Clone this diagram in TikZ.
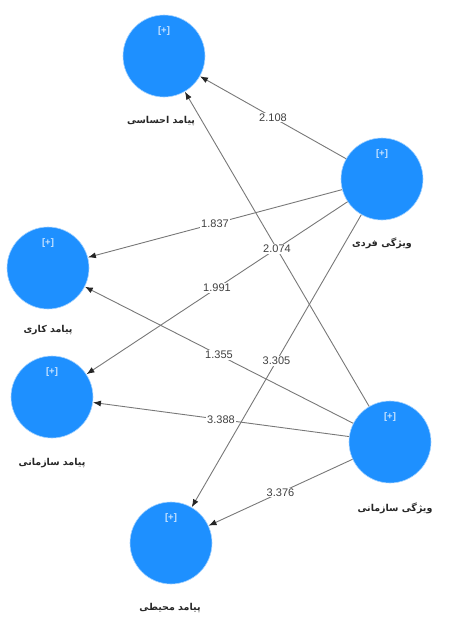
\documentclass[tikz,border=0pt]{standalone}
\usepackage{fontspec}
\setmainfont{Liberation Sans}
\newfontfamily\arabicfont[Script=Arabic]{DejaVu Sans}
\TeXXeTstate=1
\usetikzlibrary{arrows.meta}
\definecolor{circblue}{HTML}{1E90FF}
\definecolor{edgegray}{HTML}{787878}
\tikzset{
  lv/.style={circle, fill=circblue, draw=circblue!40, line width=0.6pt, minimum size=82pt, inner sep=0pt},
  plus/.style={font=\bfseries\fontsize{9.5}{10}\selectfont, text=white!75!circblue},
  fa/.style={font=\arabicfont\bfseries\fontsize{9.5}{10}\selectfont, text=black!85},
  link/.style={draw=edgegray, line width=0.9pt, -{Latex[length=8pt,width=6pt,color=black!85]}},
  coef/.style={fill=white, inner sep=1pt, font=\fontsize{11}{12}\selectfont, text=black!75}
}
\begin{document}
\begin{tikzpicture}[x=1pt,y=-1pt]
\useasboundingbox (0,0) rectangle (451,619);
\node[lv] (A) at (164,56) {};
\node[lv] (B) at (382,179) {};
\node[lv] (C) at (48,268) {};
\node[lv] (D) at (52,397) {};
\node[lv] (E) at (390,442) {};
\node[lv] (F) at (171,543) {};
\foreach \n in {A,B,C,D,E,F}{\node[plus] (p\n) at ([yshift=25pt]\n.center) {[+]};}
\node[fa] (tA) at (161,121) {\beginR پیامد احساسی\endR};
\node[fa] (tB) at (382,243) {\beginR ویژگی فردی\endR};
\node[fa] (tC) at (48,330) {\beginR پیامد کاری\endR};
\node[fa] (tD) at (52,463) {\beginR پیامد سازمانی\endR};
\node[fa] (tE) at (395,508) {\beginR ویژگی سازمانی\endR};
\node[fa] (tF) at (170,608) {\beginR پیامد محیطی\endR};
\draw[link] (B) -- node[coef] (c1) {2.108} (A);
\draw[link] (B) -- node[coef] (c2) {1.837} (C);
\draw[link] (B) -- node[coef] (c3) {1.991} (D);
\draw[link] (B) -- node[coef] (c4) {3.305} (F);
\draw[link] (E) -- node[coef] (c5) {2.074} (A);
\draw[link] (E) -- node[coef] (c6) {1.355} (C);
\draw[link] (E) -- node[coef] (c7) {3.388} (D);
\draw[link] (E) -- node[coef] (c8) {3.376} (F);
\end{tikzpicture}
\end{document}
